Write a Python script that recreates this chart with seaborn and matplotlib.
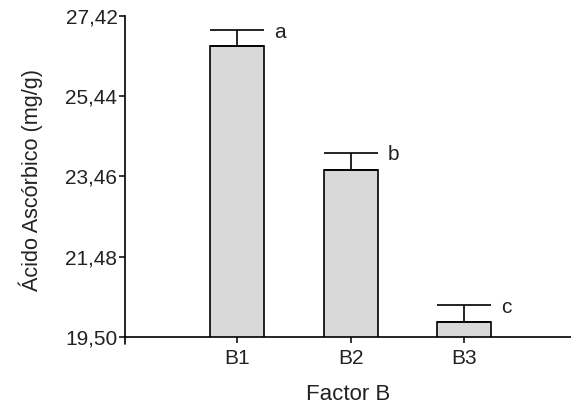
import numpy as np
import pandas as pd
import matplotlib
matplotlib.use("Agg")
import matplotlib.pyplot as plt
import seaborn as sns

# Data
categories = ["B1", "B2", "B3"]
means = [26.67, 23.61, 19.87]
errors = [0.40, 0.44, 0.41]
letters = ["a", "b", "c"]
y_ticks = [19.50, 21.48, 23.46, 25.44, 27.42]
y_tick_labels = ["19,50", "21,48", "23,46", "25,44", "27,42"]

sns.set_style("ticks")
plt.rcParams['font.family'] = ['Liberation Sans', 'DejaVu Sans']

df = pd.DataFrame({"factor": categories, "acido": means})

fig = plt.figure(figsize=(5.71, 4.07), dpi=100)
ax = fig.add_axes([0.219, 0.172, 0.781, 0.789])

sns.barplot(data=df, x="factor", y="acido", color="#d9d9d9", width=0.476,
            edgecolor="black", linewidth=1.2, saturation=1, ax=ax)

x = np.arange(len(categories))
ax.errorbar(x, means, yerr=[np.zeros(len(errors)), errors], fmt="none",
            ecolor="black", elinewidth=1.2, capsize=19.5, capthick=1.2)

for i, (m, e, t) in enumerate(zip(means, errors, letters)):
    ax.text(i + 0.33, m + e - 0.05, t, ha="left", va="center", fontsize=15,
            color="#222222")

ax.set_ylim(19.50, 27.42)
ax.set_xlim(-0.987, 2.943)
ax.set_yticks(y_ticks)
ax.set_yticklabels(y_tick_labels, fontsize=15, color="#222222")
ax.set_xticks(x)
ax.set_xticklabels(categories, fontsize=15, color="#222222")
ax.tick_params(axis="y", direction="out", length=4.5, width=1.1, color="black", pad=1)
ax.tick_params(axis="x", direction="out", length=4.5, width=1.1, color="black", pad=4)

ax.spines["top"].set_visible(False)
ax.spines["right"].set_visible(False)
for s in ["left", "bottom"]:
    ax.spines[s].set_linewidth(1.2)
    ax.spines[s].set_color("black")

# left axis runs a little below the baseline
ax.plot([0, 0], [-0.022, 0], transform=ax.transAxes, color="black",
        lw=1.2, clip_on=False)

ax.set_xlabel("Factor B", fontsize=16, labelpad=12, color="#222222")
ax.set_ylabel("Ácido Ascórbico (mg/g)", fontsize=15.6, labelpad=20, color="#222222")
ax.yaxis.set_label_coords(-0.185, 0.49)

fig.savefig("out.png", dpi=100)
